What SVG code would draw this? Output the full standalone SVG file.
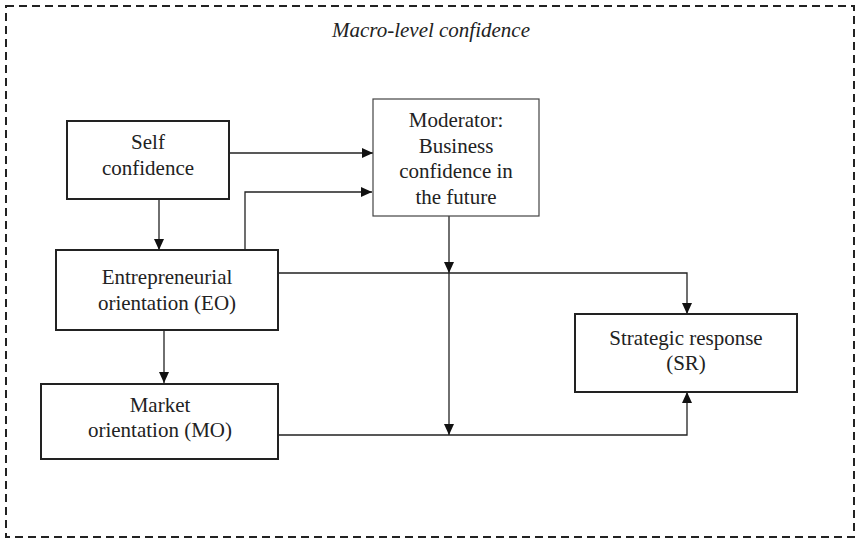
<svg xmlns="http://www.w3.org/2000/svg" width="859" height="539" viewBox="0 0 859 539">
<style>
text{font-family:"Liberation Serif","Times New Roman",serif;font-size:21px;fill:#222;text-anchor:middle}
.title{font-style:italic}
.box{fill:#fff;stroke:#222;stroke-width:2}
.thin{fill:#fff;stroke:#444;stroke-width:1.2}
.conn{fill:none;stroke:#222;stroke-width:1.3}
</style>
<defs>
<marker id="ah" markerUnits="userSpaceOnUse" markerWidth="12" markerHeight="12" refX="11" refY="5" orient="auto">
<path d="M0,0 L11,5 L0,10 Z" fill="#111"/>
</marker>
</defs>
<rect x="6" y="6" width="848" height="531" fill="none" stroke="#222" stroke-width="2" stroke-dasharray="8,5"/>
<text class="title" x="431" y="37">Macro-level confidence</text>
<g id="connectors">
<line class="conn" x1="229" y1="153" x2="373" y2="153" marker-end="url(#ah)"/>
<polyline class="conn" points="245,250 245,192 372,192" marker-end="url(#ah)"/>
<line class="conn" x1="159" y1="199" x2="159" y2="250" marker-end="url(#ah)"/>
<line class="conn" x1="164" y1="331" x2="164" y2="383" marker-end="url(#ah)"/>
<polyline class="conn" points="278,273 687,273 687,314" marker-end="url(#ah)"/>
<polyline class="conn" points="278,435 687,435 687,392" marker-end="url(#ah)"/>
<line class="conn" x1="449" y1="216" x2="449" y2="273" marker-end="url(#ah)"/>
<line class="conn" x1="449" y1="273" x2="449" y2="435" marker-end="url(#ah)"/>
</g>
<g id="self">
<rect class="box" x="67" y="121" width="162" height="78"/>
<text x="148" y="149">Self</text>
<text x="148" y="175">confidence</text>
</g>
<g id="moderator">
<rect class="thin" x="373" y="99" width="166" height="117"/>
<text x="456" y="127">Moderator:</text>
<text x="456" y="153">Business</text>
<text x="456" y="178">confidence in</text>
<text x="456" y="204">the future</text>
</g>
<g id="eo">
<rect class="box" x="56" y="250" width="222" height="80"/>
<text x="167" y="284">Entrepreneurial</text>
<text x="167" y="310">orientation (EO)</text>
</g>
<g id="mo">
<rect class="box" x="41" y="384" width="237" height="75"/>
<text x="160" y="412">Market</text>
<text x="160" y="437">orientation (MO)</text>
</g>
<g id="sr">
<rect class="box" x="575" y="314" width="222" height="78"/>
<text x="686" y="345">Strategic response</text>
<text x="686" y="370">(SR)</text>
</g>
</svg>
